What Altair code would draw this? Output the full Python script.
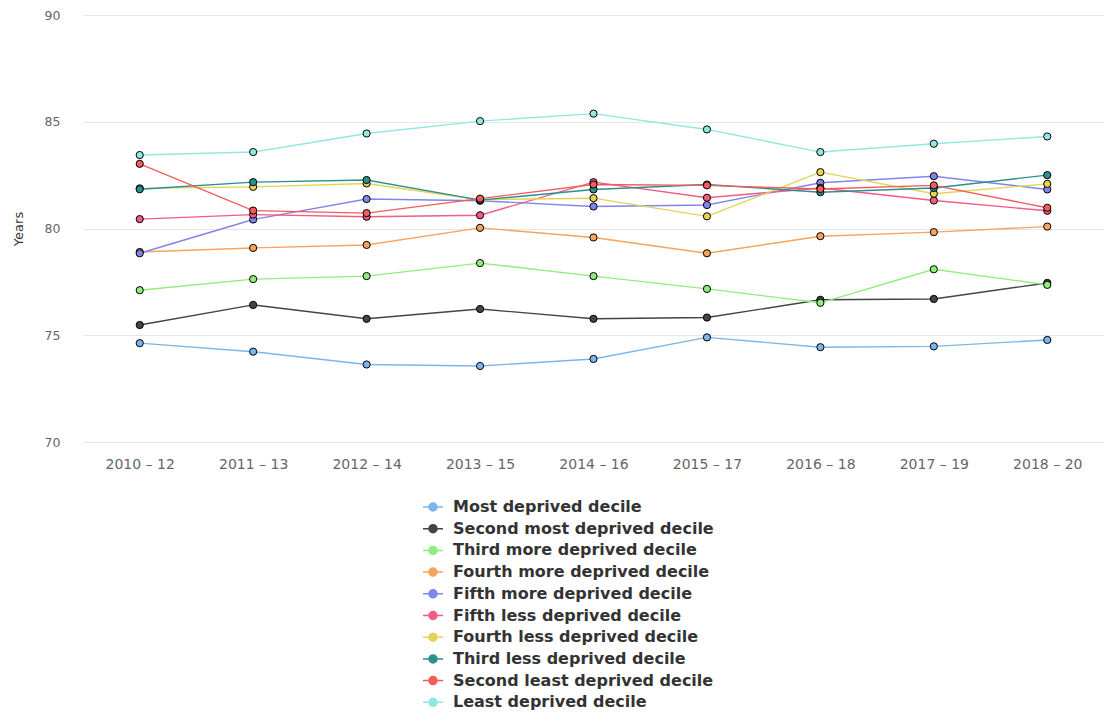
import altair as alt
import pandas as pd

periods = ["2010 – 12", "2011 – 13", "2012 – 14", "2013 – 15", "2014 – 16",
           "2015 – 17", "2016 – 18", "2017 – 19", "2018 – 20"]

series_names = [
    "Most deprived decile",
    "Second most deprived decile",
    "Third more deprived decile",
    "Fourth more deprived decile",
    "Fifth more deprived decile",
    "Fifth less deprived decile",
    "Fourth less deprived decile",
    "Third less deprived decile",
    "Second least deprived decile",
    "Least deprived decile",
]

most_deprived = [74.63, 74.23, 73.63, 73.56, 73.89, 74.90, 74.44, 74.48, 74.78]
second_most = [75.48, 76.42, 75.77, 76.23, 75.77, 75.83, 76.66, 76.70, 77.45]
third_more = [77.11, 77.63, 77.77, 78.38, 77.77, 77.17, 76.52, 78.09, 77.36]
fourth_more = [78.90, 79.09, 79.23, 80.03, 79.58, 78.84, 79.64, 79.83, 80.09]
fifth_more = [78.84, 80.42, 81.38, 81.30, 81.03, 81.10, 82.14, 82.45, 81.83]
fifth_less = [80.44, 80.65, 80.55, 80.62, 82.17, 81.44, 81.90, 81.31, 80.83]
fourth_less = [81.88, 81.95, 82.11, 81.35, 81.42, 80.57, 82.64, 81.63, 82.09]
third_less = [81.84, 82.17, 82.27, 81.33, 81.83, 82.06, 81.70, 81.90, 82.50]
second_least = [83.03, 80.84, 80.72, 81.40, 82.06, 82.02, 81.85, 82.02, 80.97]
least_deprived = [83.44, 83.58, 84.45, 85.03, 85.38, 84.64, 83.58, 83.97, 84.31]

all_values = [most_deprived, second_most, third_more, fourth_more, fifth_more,
              fifth_less, fourth_less, third_less, second_least, least_deprived]

palette = ["#7cb5ec", "#434348", "#90ed7d", "#f7a35c", "#8085e9",
           "#f15c80", "#e4d354", "#2b908f", "#f45b5b", "#91e8e1"]

rows = []
for name, vals in zip(series_names, all_values):
    for p, v in zip(periods, vals):
        rows.append({"period": p, "series": name, "value": v})
df = pd.DataFrame(rows)

FONT = "DejaVu Sans"

x_enc = alt.X("period:N", sort=periods, scale=alt.Scale(domain=periods, padding=0.5),
              axis=alt.Axis(title=None, labelAngle=0, labelFont=FONT, labelFontSize=14,
                            labelColor="#666666", labelPadding=15, ticks=False,
                            domain=False, grid=False))
y_enc = alt.Y("value:Q", scale=alt.Scale(domain=[70, 90], nice=False, zero=False),
              axis=alt.Axis(title="Years", values=[70, 75, 80, 85, 90], titleFont=FONT,
                            titleFontSize=13, titleFontWeight="normal", titleColor="#333333",
                            titlePadding=19, labelFont=FONT, labelFontSize=12.5,
                            labelColor="#666666", labelPadding=23, ticks=False,
                            domain=False, gridColor="#e6e6e6", gridWidth=1))

legend_symbol = "M-1,0L1,0M-0.4,0A0.4,0.4,0,1,1,0.4,0A0.4,0.4,0,1,1,-0.4,0Z"

color_enc = alt.Color("series:N", sort=series_names,
                      scale=alt.Scale(domain=series_names, range=palette),
                      legend=alt.Legend(title=None, orient="none", legendX=339, legendY=482,
                                        direction="vertical", symbolType=legend_symbol,
                                        symbolSize=400, symbolStrokeWidth=1.5,
                                        labelFont=FONT, labelFontSize=16,
                                        labelFontWeight="bold", labelColor="#333333",
                                        labelOffset=9, clipHeight=20, rowPadding=1.7,
                                        labelLimit=400))

lines = alt.Chart(df).mark_line(strokeWidth=1.4).encode(
    x=x_enc, y=y_enc, color=color_enc, order=alt.Order("period:N")
)
points = alt.Chart(df).mark_point(filled=True, size=52, stroke="#000000",
                                  strokeWidth=1, opacity=1).encode(
    x=x_enc, y=y_enc, fill=alt.Fill("series:N", sort=series_names,
                                    scale=alt.Scale(domain=series_names, range=palette),
                                    legend=None)
)

chart = alt.layer(lines, points).properties(
    width=1021, height=427,
    autosize=alt.AutoSizeParams(type="none"),
    padding={"left": 83, "top": 15, "right": 0, "bottom": 272},
    background="#ffffff",
).configure_view(stroke=None)

chart.save("out.html", embed_options={"renderer": "svg", "actions": False})
